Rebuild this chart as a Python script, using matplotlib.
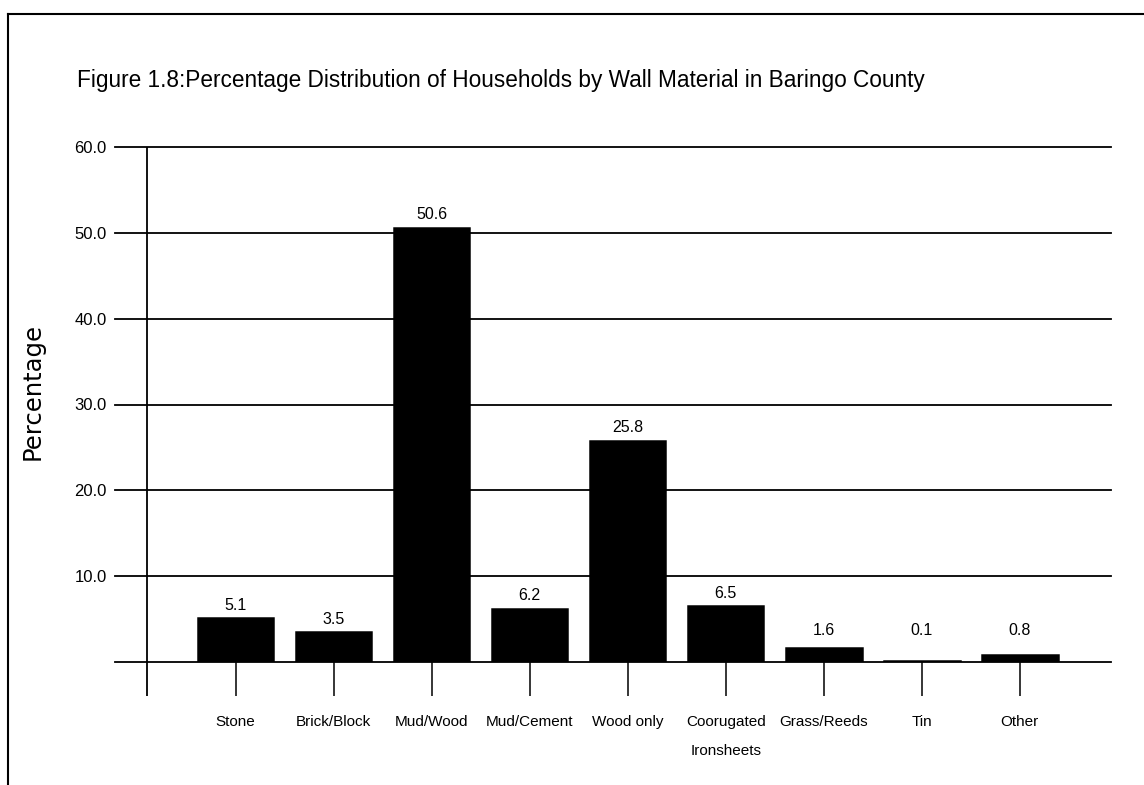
import matplotlib.pyplot as plt

# wall material shares, Baringo County
materials = ["Stone", "Brick/Block", "Mud/Wood", "Mud/Cement", "Wood only",
             "Coorugated\nIronsheets", "Grass/Reeds", "Tin", "Other"]
percent = [5.1, 3.5, 50.6, 6.2, 25.8, 6.5, 1.6, 0.1, 0.8]
y_ticks = [0, 10, 20, 30, 40, 50, 60]
y_tick_labels = ["", "10.0", "20.0", "30.0", "40.0", "50.0", "60.0"]

font = "Liberation Sans"

fig = plt.figure(figsize=(11.44, 7.85), dpi=100)

# outer frame (runs off the right and bottom edges)
fig.add_artist(plt.Line2D([8 / 1144, 1], [1 - 14 / 785, 1 - 14 / 785], color="black", lw=1.5))
fig.add_artist(plt.Line2D([8 / 1144, 8 / 1144], [0, 1 - 14 / 785], color="black", lw=1.5))

fig.text(77 / 1144, 1 - 80 / 785,
         "Figure 1.8:Percentage Distribution of Households by Wall Material in Baringo County",
         family=font, fontsize=16.3, va="center", ha="left")

ax = fig.add_axes([115 / 1144, 123 / 785, 996 / 1144, 515 / 785])
x = list(range(len(materials)))

ax.bar(x, percent, width=0.77, color="black", edgecolor="black", linewidth=1.8, zorder=3)
for xi, v in zip(x, percent):
    ax.text(xi, max(v, 2.2) + 1.5, f"{v}", ha="center", va="center",
            family=font, fontsize=11.5)

ax.set_xlim(-1.23, 8.93)
ax.set_ylim(0, 60)

# horizontal rules at every tick, including the baseline
for t in y_ticks:
    ax.axhline(t, color="black", lw=1.3, zorder=1, clip_on=False)

# vertical axis line, reaching below the baseline
ax.vlines(-0.9, -4.0, 60, color="black", lw=1.3, clip_on=False, zorder=4)

ax.set_yticks(y_ticks)
ax.set_yticklabels(y_tick_labels, family=font, fontsize=12)
ax.tick_params(axis="y", length=0, pad=6)

ax.set_xticks(x)
ax.set_xticklabels(materials, family=font, fontsize=11, linespacing=2.3, va="top")
ax.tick_params(axis="x", direction="out", length=24.5, width=1.1, pad=14)

for s in ax.spines.values():
    s.set_visible(False)

fig.text(33 / 1144, 1 - 391 / 785, "Percentage", rotation=90, fontsize=17.5,
         va="center", ha="center", family="DejaVu Sans")

fig.savefig("out.png", dpi=100)
